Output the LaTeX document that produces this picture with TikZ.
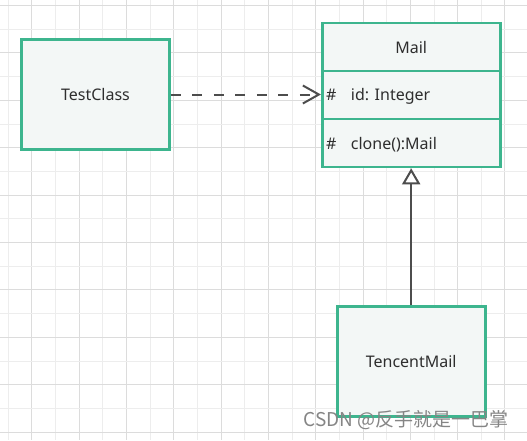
\documentclass[tikz,border=0pt]{standalone}
\usepackage{fontspec}
\setmainfont{Noto Sans}
\newfontfamily\cjkfont{Noto Sans CJK SC}
\usetikzlibrary{arrows.meta}
\definecolor{gridlight}{HTML}{EDEDED}
\definecolor{griddark}{HTML}{DCDCDC}
\definecolor{umlgreen}{HTML}{3DB58E}
\definecolor{umlfill}{HTML}{F3F7F6}
\definecolor{txt}{HTML}{2E2E2E}
\definecolor{conn}{HTML}{4D4D4D}
\definecolor{wmark}{HTML}{858585}
\begin{document}
\begin{tikzpicture}[x=1pt,y=-1pt,
  lbl/.style={font=\fontsize{16}{18}\selectfont,text=txt,inner sep=0pt},
  classbox/.style={draw=umlgreen,fill=umlfill,line width=2.6pt,minimum width=148pt,minimum height=110pt,inner sep=0pt,lbl},
  compart/.style={draw=umlgreen,fill=umlfill,line width=2.6pt,minimum width=178pt,minimum height=48pt,inner sep=0pt,lbl},
  connline/.style={draw=conn,line width=2pt},
]
\fill[white] (0,0) rectangle (527,440);
\useasboundingbox (0,0) rectangle (527,440);
\begin{scope}
\clip (0,0) rectangle (527,440);
\foreach \m in {0,...,11} \draw[gridlight,line width=1pt] ({8.3+47.3*\m},0) -- ({8.3+47.3*\m},440);
\foreach \m in {0,...,10} \draw[griddark,line width=1pt] ({31.95+47.3*\m},0) -- ({31.95+47.3*\m},440);
\foreach \m in {0,...,8} \draw[gridlight,line width=1pt] (0,{29.2+47.4*\m}) -- (527,{29.2+47.4*\m});
\foreach \m in {0,...,9} \draw[griddark,line width=1pt] (0,{5.5+47.4*\m}) -- (527,{5.5+47.4*\m});
\end{scope}

\node[classbox] (testclass) at (95.5,94.5) {TestClass};

\node[compart] (mailname) at (411.2,47) {Mail};
\node[compart] (mailattr) at (411.2,95) {};
\node[compart] (mailop) at (411.2,143) {};
\node[lbl,anchor=base west] (hashattr) at (326,100.7) {\#};
\node[lbl,anchor=base west] (attr) at (350.7,100.7) {id: Integer};
\node[lbl,anchor=base west] (hashop) at (326,149.3) {\#};
\node[lbl,anchor=base west] (op) at (350.7,149.3) {clone():Mail};

\node[classbox] (tencent) at (411.2,361.3) {TencentMail};

\draw[connline,dash pattern=on 10pt off 11.5pt,-{Straight Barb[length=16pt,width=18pt]}]
  (testclass.east) -- (testclass.east -| mailattr.west);
\draw[connline,-{Triangle[open,length=16pt,width=18pt,fill=white]}] (tencent) -- (mailop);

\node[font=\cjkfont\fontsize{19}{21}\selectfont,text=wmark,inner sep=0pt,anchor=base east] (wm) at (509,426.7) {CSDN @反手就是一巴掌};
\end{tikzpicture}
\end{document}
